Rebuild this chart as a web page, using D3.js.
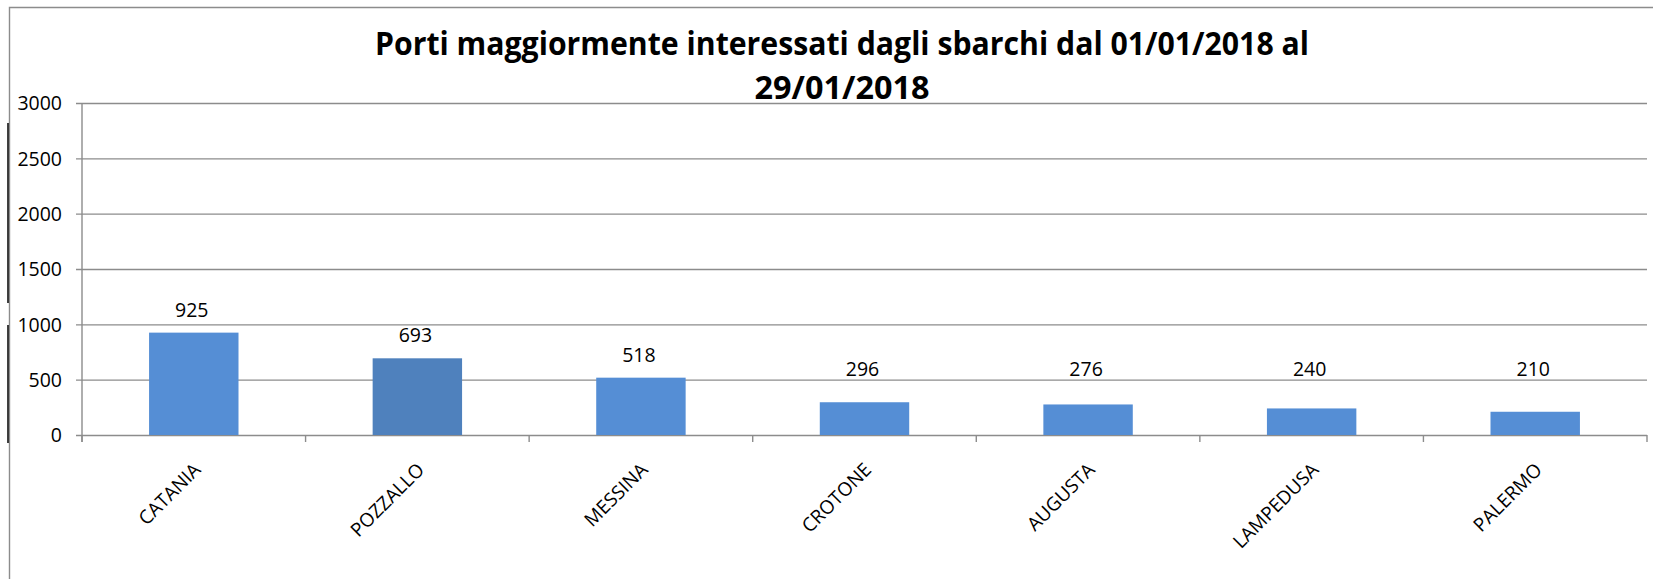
<!DOCTYPE html>
<html>
<head>
<meta charset="utf-8">
<script src="https://cdn.jsdelivr.net/npm/d3@7"></script>
<style>
  body { margin: 0; background: #fff; }
  svg text { font-family: "Open Sans", "Noto Sans", sans-serif; fill: #000; }
</style>
</head>
<body>
<div id="chart"></div>
<script>
const titleLines = ["Porti maggiormente interessati dagli sbarchi dal 01/01/2018 al", "29/01/2018"];
const ports = ["CATANIA", "POZZALLO", "MESSINA", "CROTONE", "AUGUSTA", "LAMPEDUSA", "PALERMO"];
const landings = [925, 693, 518, 296, 276, 240, 210];
const yTicks = [0, 500, 1000, 1500, 2000, 2500, 3000];

function drawChart() {
    const width = 1653;
    const height = 579;
    const margin = { top: 103, right: 6, bottom: 144, left: 82 };

    const svg = d3.select("#chart")
        .append("svg")
        .attr("width", width)
        .attr("height", height);

    // chart frame (only top and left edges fall inside the picture)
    svg.append("path")
        .attr("d", `M9.5,${height} V7.5 H${width}`)
        .attr("fill", "none")
        .attr("stroke", "#8c8c8c")
        .attr("stroke-width", 1.4);

    // stray black marks at the left edge
    svg.selectAll(".edge")
        .data([[123, 303], [325, 443]])
        .enter()
        .append("line")
        .attr("x1", 8).attr("x2", 8)
        .attr("y1", d => d[0]).attr("y2", d => d[1])
        .attr("stroke", "#000")
        .attr("stroke-width", 1.5);

    const x = d3.scaleBand()
        .domain(ports)
        .range([margin.left, width - margin.right])
        .paddingInner(0.6)
        .paddingOuter(0.3);

    const xBand = d3.scaleBand()
        .domain(ports)
        .range([margin.left, width - margin.right]);

    const y = d3.scaleLinear()
        .domain([0, 3000])
        .range([height - margin.bottom, margin.top]);

    // gridlines + y labels
    const yAxis = svg.append("g")
        .attr("transform", `translate(${margin.left}, 0)`)
        .call(d3.axisLeft(y)
            .tickValues(yTicks)
            .tickSize(-(width - margin.left - margin.right))
            .tickSizeOuter(0)
            .tickFormat(d3.format("d")));
    yAxis.select(".domain").remove();
    yAxis.selectAll(".tick line")
        .attr("x1", -6)
        .attr("stroke", "#8c8c8c")
        .attr("stroke-width", 1.4);
    yAxis.selectAll(".tick text")
        .style("font-size", "19.5px")
        .attr("x", -20)
        .attr("dy", "0.35em");

    // vertical axis line
    svg.append("line")
        .attr("x1", margin.left).attr("x2", margin.left)
        .attr("y1", y(3000)).attr("y2", y(0) + 7)
        .attr("stroke", "#8c8c8c")
        .attr("stroke-width", 1.4);

    // category boundary ticks
    const bounds = ports.map(p => xBand(p)).concat([width - margin.right]);
    svg.selectAll(".xtick")
        .data(bounds)
        .enter()
        .append("line")
        .attr("x1", d => d).attr("x2", d => d)
        .attr("y1", y(0)).attr("y2", y(0) + 7)
        .attr("stroke", "#8c8c8c")
        .attr("stroke-width", 1.4);

    const data = ports.map((p, i) => ({ port: p, value: landings[i] }));

    svg.selectAll(".bar")
        .data(data)
        .enter()
        .append("rect")
        .attr("x", d => x(d.port))
        .attr("y", d => y(d.value))
        .attr("width", x.bandwidth())
        .attr("height", d => y(0) - y(d.value))
        .attr("fill", d => d.port === "POZZALLO" ? "#4f81bd" : "#558ed5");

    // value labels
    svg.selectAll(".val")
        .data(data)
        .enter()
        .append("text")
        .attr("x", d => x(d.port) + x.bandwidth() / 2 - 2)
        .attr("y", d => Math.min(y(d.value) - 16, y(0) - 59))
        .attr("text-anchor", "middle")
        .style("font-size", "19.5px")
        .text(d => d.value);

    // rotated category labels
    svg.selectAll(".cat")
        .data(ports)
        .enter()
        .append("text")
        .attr("transform", d => `translate(${x(d) + x.bandwidth() / 2 + 8}, ${y(0) + 36}) rotate(-45)`)
        .attr("text-anchor", "end")
        .style("font-size", "19px")
        .text(d => d);

    // title
    const cx = 842;
    const lineW = [934, 175];
    const lineY = [54.5, 99];
    svg.selectAll(".title")
        .data(titleLines)
        .enter()
        .append("text")
        .attr("x", cx)
        .attr("y", (d, i) => lineY[i])
        .attr("text-anchor", "middle")
        .attr("textLength", (d, i) => lineW[i])
        .attr("lengthAdjust", "spacingAndGlyphs")
        .style("font-size", "32.5px")
        .style("font-weight", "bold")
        .text(d => d);
}

drawChart();
</script>
</body>
</html>
